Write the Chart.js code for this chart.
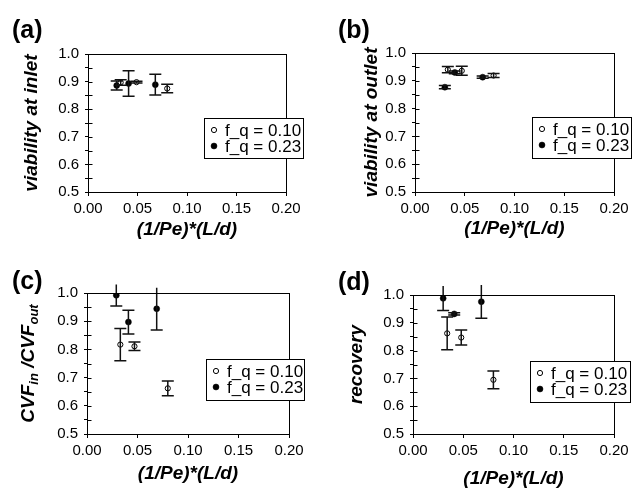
<!DOCTYPE html>
<html>
<head>
<meta charset="utf-8">
<script src="https://cdn.jsdelivr.net/npm/chart.js@4.4.1/dist/chart.umd.min.js"></script>
<style>
  body{margin:0;background:#fff;}
  .panel{position:absolute;width:321px;height:246px;}
</style>
</head>
<body>
<div class="panel" style="left:0;top:0"><canvas id="chartA" width="321" height="246"></canvas></div>
<div class="panel" style="left:321px;top:0"><canvas id="chartB" width="321" height="246"></canvas></div>
<div class="panel" style="left:0;top:246px"><canvas id="chartC" width="321" height="246"></canvas></div>
<div class="panel" style="left:321px;top:246px"><canvas id="chartD" width="321" height="246"></canvas></div>
<script>
// axes + legend
const xTickValues = [0, 0.05, 0.10, 0.15, 0.20];
const yTickValues = [0.5, 0.55, 0.6, 0.65, 0.7, 0.75, 0.8, 0.85, 0.9, 0.95, 1.0];
const seriesNames = ['f_q = 0.10', 'f_q = 0.23'];
const xTitle = '(1/Pe)*(L/d)';

// (a) viability at inlet
const inletX10 = [0.033, 0.049, 0.080];
const inletY10 = [0.897, 0.898, 0.875];
const inletErr10 = [0.010, 0.003, 0.015];
const inletX23 = [0.029, 0.041, 0.068];
const inletY23 = [0.886, 0.893, 0.889];
const inletErr23 = [0.016, 0.046, 0.038];

// (b) viability at outlet
const outletX10 = [0.033, 0.047, 0.079];
const outletY10 = [0.940, 0.936, 0.919];
const outletErr10 = [0.011, 0.016, 0.007];
const outletX23 = [0.030, 0.040, 0.068];
const outletY23 = [0.877, 0.930, 0.913];
const outletErr23 = [0.006, 0.005, 0.004];

// (c) CVF in / CVF out
const cvfX10 = [0.033, 0.047, 0.080];
const cvfY10 = [0.817, 0.811, 0.662];
const cvfErr10 = [0.057, 0.015, 0.026];
const cvfX23 = [0.029, 0.041, 0.069];
const cvfY23 = [0.992, 0.897, 0.944];
const cvfErr23 = [0.038, 0.042, 0.075];

// (d) recovery
const recX10 = [0.034, 0.048, 0.080];
const recY10 = [0.862, 0.847, 0.695];
const recErr10 = [0.059, 0.027, 0.032];
const recX23 = [0.030, 0.041, 0.068];
const recY23 = [0.988, 0.932, 0.976];
const recErr23 = [0.044, 0.004, 0.060];

const FONT = '"Liberation Sans", Arial, Helvetica, sans-serif';
Chart.defaults.font.family = FONT;
Chart.defaults.color = '#000';

const toPoints = (xs, ys)=> xs.map((x, i)=>({x, y: ys[i]}));

// frame round the plot area, y ticks crossing the axis
const frameBox = {
  id: 'frameBox',
  afterDraw(chart){
    const {ctx, chartArea: a, scales: {y}} = chart;
    ctx.save();
    ctx.strokeStyle = '#000';
    ctx.lineWidth = 1;
    const l = Math.round(a.left)+0.5;
    ctx.strokeRect(l, Math.round(a.top)+0.5, Math.round(a.right-a.left), Math.round(a.bottom-a.top));
    ctx.beginPath();
    yTickValues.forEach(v=>{
      const py = Math.round(y.getPixelForValue(v))+0.5;
      ctx.moveTo(l, py); ctx.lineTo(l+4, py);
    });
    ctx.stroke();
    ctx.restore();
  }
};

// vertical error bars with caps
const errorBars = {
  id: 'errorBars',
  afterDatasetsDraw(chart){
    const {ctx, scales: {x, y}} = chart;
    ctx.save();
    ctx.strokeStyle = '#111';
    ctx.lineWidth = 1.5;
    chart.data.datasets.forEach(ds=>{
      (ds.errors || []).forEach((e, i)=>{
        const p = ds.data[i];
        const px = x.getPixelForValue(p.x);
        const top = y.getPixelForValue(p.y + e);
        const bot = y.getPixelForValue(p.y - e);
        ctx.beginPath();
        ctx.moveTo(px, top); ctx.lineTo(px, bot);
        if(p.y + e <= y.max){ ctx.moveTo(px-6, top); ctx.lineTo(px+6, top); }
        ctx.moveTo(px-6, bot); ctx.lineTo(px+6, bot);
        ctx.stroke();
      });
    });
    ctx.restore();
  }
};

// boxed legend + panel tag + optional subscripted y title
const extras = {
  id: 'extras',
  afterDraw(chart, args, opts){
    const {ctx} = chart;
    ctx.save();
    // panel tag
    ctx.font = 'bold 25px ' + FONT;
    ctx.fillStyle = '#000';
    ctx.textBaseline = 'middle';
    ctx.textAlign = 'left';
    ctx.fillText(opts.tag, opts.tagX, opts.tagY);

    // legend
    const L = opts.legend;
    ctx.fillStyle = '#fff';
    ctx.fillRect(L.x, L.y, L.w, L.h);
    ctx.strokeStyle = '#000';
    ctx.lineWidth = 1;
    ctx.strokeRect(L.x+0.5, L.y+0.5, L.w, L.h);
    ctx.font = '17px ' + FONT;
    chart.data.datasets.forEach((ds, i)=>{
      const cy = L.y + 12 + i*16;
      ctx.beginPath();
      ctx.arc(L.x + 10, cy, ds.pointRadius, 0, Math.PI*2);
      ctx.fillStyle = ds.pointBackgroundColor;
      ctx.fill();
      ctx.strokeStyle = '#000';
      ctx.lineWidth = ds.pointBorderWidth;
      ctx.stroke();
      ctx.fillStyle = '#000';
      ctx.fillText(ds.label, L.x + 21, cy + 1);
    });

    // y title with subscripts
    if(opts.yParts){
      const a = chart.chartArea;
      const cy = (a.top + a.bottom)/2;
      ctx.translate(opts.yTitleX, cy);
      ctx.rotate(-Math.PI/2);
      ctx.textBaseline = 'alphabetic';
      const big = 'italic bold 19px ' + FONT;
      const small = 'italic bold 13px ' + FONT;
      let total = 0;
      opts.yParts.forEach(p=>{ ctx.font = p.sub ? small : big; total += ctx.measureText(p.text).width; });
      let cx = -total/2;
      opts.yParts.forEach(p=>{
        ctx.font = p.sub ? small : big;
        ctx.fillText(p.text, cx, p.sub ? 11 : 7);
        cx += ctx.measureText(p.text).width;
      });
    }
    ctx.restore();
  }
};

const makePanel = (id, s)=>{
  const ctx = document.getElementById(id);
  return new Chart(ctx, {
    type: 'scatter',
    data: {
      datasets: [
        {
          label: seriesNames[0],
          data: toPoints(s.x10, s.y10),
          errors: s.e10,
          pointRadius: 2.6,
          pointBorderWidth: 1,
          pointBackgroundColor: '#fff',
          pointBorderColor: '#000'
        },
        {
          label: seriesNames[1],
          data: toPoints(s.x23, s.y23),
          errors: s.e23,
          pointRadius: 3,
          pointBorderWidth: 0.5,
          pointBackgroundColor: '#000',
          pointBorderColor: '#000'
        }
      ]
    },
    options: {
      responsive: false,
      animation: false,
      events: [],
      layout: { padding: { left: 0, bottom: 0, top: s.top, right: 321 - s.right } },
      plugins: {
        legend: { display: false },
        tooltip: { enabled: false },
        extras: s.extras
      },
      scales: {
        x: {
          type: 'linear',
          min: 0, max: 0.2,
          afterBuildTicks: (sc)=>{ sc.ticks = xTickValues.map(v=>({value: v})); },
          afterFit: (sc)=>{ sc.height = 246 - s.bottom; },
          ticks: { font: { size: 15 }, color: '#000', padding: 4, autoSkip: false, maxRotation: 0,
                   callback: (v)=> Number(v).toFixed(2) },
          grid: { drawOnChartArea: false, drawTicks: true, tickLength: 4, color: '#000' },
          border: { display: false },
          title: { display: true, text: xTitle, font: { size: 19, style: 'italic', weight: 'bold' },
                   color: '#000', padding: { top: 0, bottom: s.xTitlePad } }
        },
        y: {
          type: 'linear',
          min: 0.5, max: 1.0,
          afterBuildTicks: (sc)=>{ sc.ticks = yTickValues.map(v=>({value: v})); },
          afterFit: (sc)=>{ sc.width = s.left; },
          ticks: { font: { size: 15 }, color: '#000', padding: 6, autoSkip: false,
                   callback: (v)=> Math.abs(v*10 - Math.round(v*10)) < 1e-6 ? Number(v).toFixed(1) : '' },
          grid: { drawOnChartArea: false, drawTicks: true, tickLength: 3, color: '#000' },
          border: { display: false },
          title: { display: !!s.yTitle, text: s.yTitle || '', font: { size: 19, style: 'italic', weight: 'bold' },
                   color: '#000', padding: { top: s.yTitlePad || 0, bottom: 0 } }
        }
      }
    },
    plugins: [frameBox, errorBars, extras]
  });
};

makePanel('chartA', {
  x10: inletX10, y10: inletY10, e10: inletErr10,
  x23: inletX23, y23: inletY23, e23: inletErr23,
  left: 88, right: 286, top: 54, bottom: 192,
  yTitle: 'viability at inlet', yTitlePad: 20, xTitlePad: 4.5,
  extras: { tag: '(a)', tagX: 12, tagY: 31, legend: { x: 204, y: 118, w: 99, h: 40 } }
});

makePanel('chartB', {
  x10: outletX10, y10: outletY10, e10: outletErr10,
  x23: outletX23, y23: outletY23, e23: outletErr23,
  left: 94, right: 293, top: 53, bottom: 192,
  yTitle: 'viability at outlet', yTitlePad: 39, xTitlePad: 5.5,
  extras: { tag: '(b)', tagX: 17, tagY: 31, legend: { x: 211, y: 117, w: 99, h: 41 } }
});

makePanel('chartC', {
  x10: cvfX10, y10: cvfY10, e10: cvfErr10,
  x23: cvfX23, y23: cvfY23, e23: cvfErr23,
  left: 87, right: 289, top: 47, bottom: 188,
  yTitle: null, xTitlePad: 7,
  extras: { tag: '(c)', tagX: 12, tagY: 36, legend: { x: 206, y: 113, w: 98, h: 41 },
            yTitleX: 27,
            yParts: [ {text: 'CVF'}, {text: 'in', sub: true}, {text: ' /CVF'}, {text: 'out', sub: true} ] }
});

makePanel('chartD', {
  x10: recX10, y10: recY10, e10: recErr10,
  x23: recX23, y23: recY23, e23: recErr23,
  left: 92, right: 293, top: 49, bottom: 188,
  yTitle: 'recovery', yTitlePad: 24.5, xTitlePad: 2,
  extras: { tag: '(d)', tagX: 17, tagY: 37, legend: { x: 209, y: 115, w: 100, h: 41 } }
});
</script>
</body>
</html>
